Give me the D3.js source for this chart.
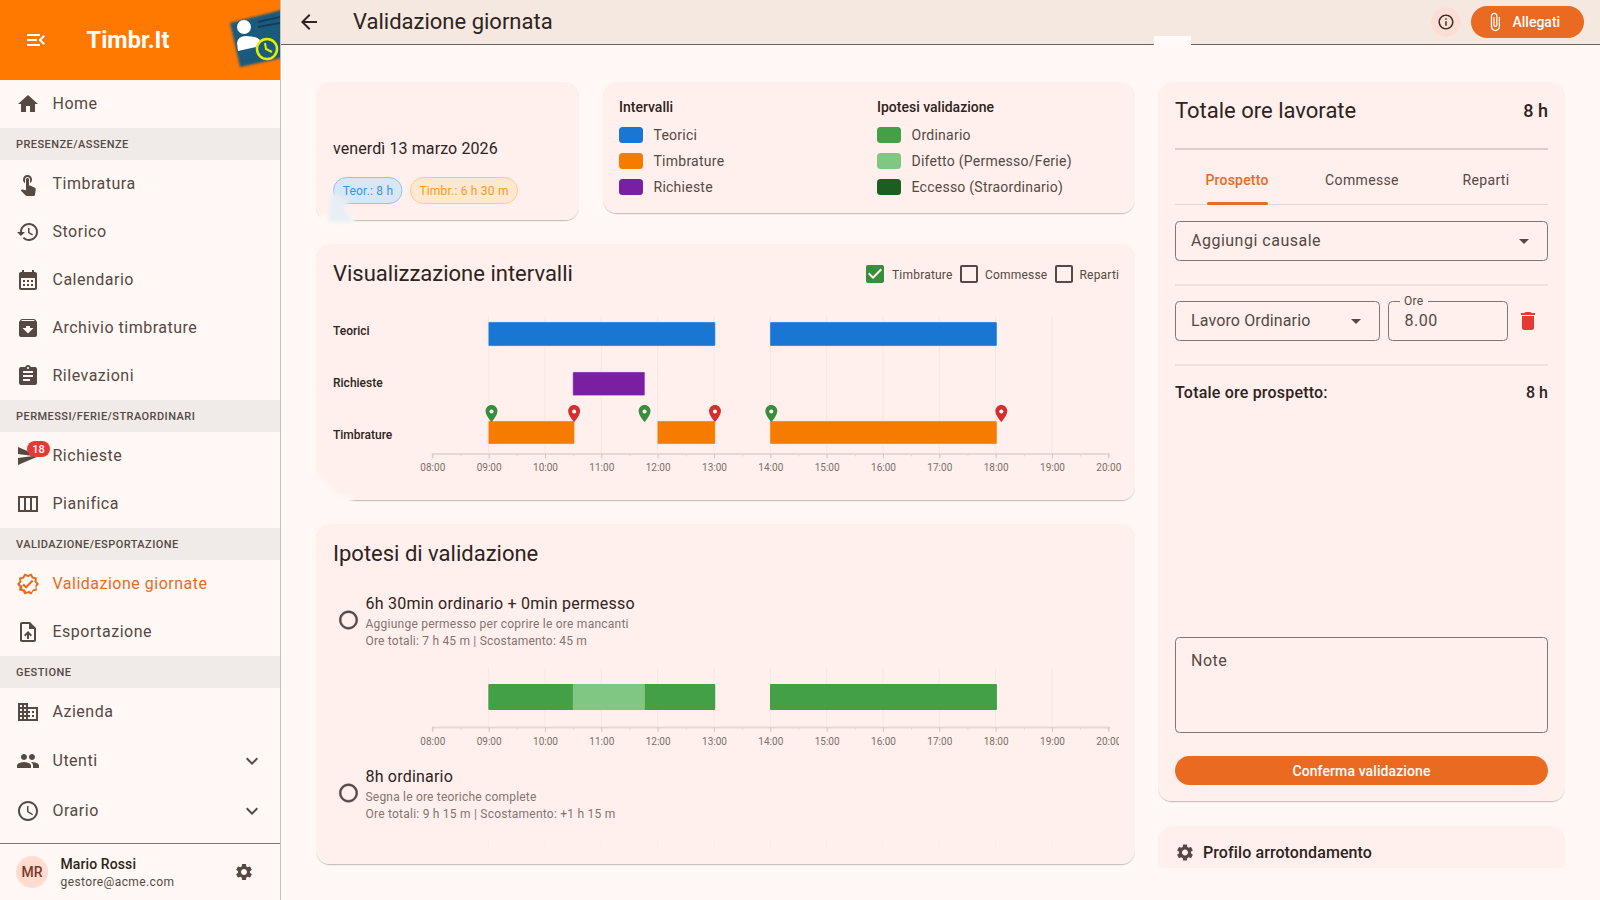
<!DOCTYPE html>
<html lang="it">
<head>
<meta charset="utf-8">
<title>Validazione giornata</title>
<script src="https://cdn.jsdelivr.net/npm/d3@7"></script>
<style>
    html, body { margin: 0; padding: 0; background: #fff8f5; overflow: hidden; }
    svg { display: block; font-family: Roboto, sans-serif; }
</style>
</head>
<body>
<div id="app"></div>
<script>
// -----------------------------
// Data
// -----------------------------
const menuEntries = [
    ["item", "Home", "home"],
    ["group", "PRESENZE/ASSENZE"],
    ["item", "Timbratura", "touch"],
    ["item", "Storico", "history"],
    ["item", "Calendario", "calendar"],
    ["item", "Archivio timbrature", "archive"],
    ["item", "Rilevazioni", "assignment"],
    ["group", "PERMESSI/FERIE/STRAORDINARI"],
    ["item", "Richieste", "send"],
    ["item", "Pianifica", "week"],
    ["group", "VALIDAZIONE/ESPORTAZIONE"],
    ["item", "Validazione giornate", "verified"],
    ["item", "Esportazione", "upload"],
    ["group", "GESTIONE"],
    ["item", "Azienda", "domain"],
    ["item", "Utenti", "people"],
    ["item", "Orario", "clock"]
];
const expandable = ["Utenti", "Orario"];
const activeItem = "Validazione giornate";

const hourTicks = ["08:00", "09:00", "10:00", "11:00", "12:00", "13:00", "14:00", "15:00", "16:00", "17:00", "18:00", "19:00", "20:00"];
const teorici = [["09:00", "13:00"], ["14:00", "18:00"]];
const richieste = [["10:30", "11:45"]];
const timbrature = [["09:00", "10:30"], ["12:00", "13:00"], ["14:00", "18:00"]];
const entrate = ["09:02", "11:45", "14:00"];
const uscite = ["10:30", "13:00", "18:05"];
const ipotesiOrdinario = [["09:00", "10:30"], ["11:45", "13:00"], ["14:00", "18:00"]];
const ipotesiDifetto = [["10:30", "11:45"]];

const legendIntervalli = [["Teorici", "#1976d2"], ["Timbrature", "#f57c00"], ["Richieste", "#7b1fa2"]];
const legendIpotesi = [["Ordinario", "#43a047"], ["Difetto (Permesso/Ferie)", "#81c784"], ["Eccesso (Straordinario)", "#1b5e20"]];
const toggles = [["Timbrature", true], ["Commesse", false], ["Reparti", false]];
const tabs = ["Prospetto", "Commesse", "Reparti"];

const icons = {
    home: "M10 20v-6h4v6h5v-8h3L12 3 2 12h3v8z",
    touch: "M9 11.24V7.5C9 6.12 10.12 5 11.5 5S14 6.12 14 7.5v3.74c1.21-.81 2-2.18 2-3.74C16 5.01 13.99 3 11.5 3S7 5.01 7 7.5c0 1.56.79 2.93 2 3.74zm9.84 4.63l-4.54-2.26c-.17-.07-.35-.11-.54-.11H13v-6c0-.83-.67-1.5-1.5-1.5S10 6.67 10 7.5v10.74l-3.43-.72c-.08-.01-.15-.03-.24-.03-.31 0-.59.13-.79.33l-.79.8 4.94 4.94c.27.27.65.44 1.06.44h6.79c.75 0 1.33-.55 1.44-1.28l.75-5.27c.01-.07.02-.14.02-.2 0-.62-.38-1.16-.91-1.38z",
    history: "M13 3c-4.97 0-9 4.03-9 9H1l3.89 3.89.07.14L9 12H6c0-3.87 3.13-7 7-7s7 3.13 7 7-3.13 7-7 7c-1.93 0-3.68-.79-4.94-2.06l-1.42 1.42C8.27 19.99 10.51 21 13 21c4.97 0 9-4.03 9-9s-4.03-9-9-9zm-1 5v5l4.28 2.54.72-1.21-3.5-2.08V8H12z",
    calendar: "M19 4h-1V2h-2v2H8V2H6v2H5c-1.11 0-1.99.9-1.99 2L3 20c0 1.1.89 2 2 2h14c1.1 0 2-.9 2-2V6c0-1.1-.9-2-2-2zm0 16H5V10h14v10zM9 14H7v-2h2v2zm4 0h-2v-2h2v2zm4 0h-2v-2h2v2zm-8 4H7v-2h2v2zm4 0h-2v-2h2v2zm4 0h-2v-2h2v2z",
    archive: "M20.54 5.23l-1.39-1.68C18.88 3.21 18.47 3 18 3H6c-.47 0-.88.21-1.16.55L3.46 5.23C3.17 5.57 3 6.02 3 6.5V19c0 1.1.9 2 2 2h14c1.1 0 2-.9 2-2V6.5c0-.48-.17-.93-.46-1.27zM12 17.5L6.5 12H10v-2h4v2h3.5L12 17.5zM5.12 5l.81-1h12l.94 1H5.12z",
    assignment: "M19 3h-4.18C14.4 1.84 13.3 1 12 1c-1.3 0-2.4.84-2.82 2H5c-1.1 0-2 .9-2 2v14c0 1.1.9 2 2 2h14c1.1 0 2-.9 2-2V5c0-1.1-.9-2-2-2zm-7 0c.55 0 1 .45 1 1s-.45 1-1 1-1-.45-1-1 .45-1 1-1zm2 14H7v-2h7v2zm3-4H7v-2h10v2zm0-4H7V7h10v2z",
    send: "M2.01 21L23 12 2.01 3 2 10l15 2-15 2z",
    week: "M2 4v16h20V4H2zm6 14H4V6h4v12zm6 0h-4V6h4v12zm6 0h-4V6h4v12z",
    verified: "M23 12l-2.44-2.79.34-3.69-3.61-.82-1.89-3.2L12 2.96 8.6 1.5 6.71 4.69 3.1 5.5l.34 3.7L1 12l2.44 2.79-.34 3.7 3.61.82L8.6 22.5l3.4-1.47 3.4 1.46 1.89-3.19 3.61-.82-.34-3.69L23 12zm-3.05 1.48l-.56.65.08.85.18 1.95-1.9.43-.84.19-.44.74-.99 1.68-1.78-.77-.8-.34-.79.34-1.78.77-.99-1.67-.44-.74-.84-.19-1.9-.43.18-1.96.08-.85-.56-.65L3.67 12l1.29-1.49.56-.65-.09-.86-.18-1.94 1.9-.43.84-.19.44-.74.99-1.68 1.78.77.8.34.79-.34 1.78-.77.99 1.68.44.74.84.19 1.9.43-.18 1.95-.08.85.56.65L20.33 12l-1.28 1.48zM10.09 13.75l-2.32-2.33-1.48 1.49 3.8 3.81 7.34-7.36-1.48-1.49z",
    upload: "M14 2H6c-1.1 0-1.99.9-1.99 2L4 20c0 1.1.89 2 1.99 2H18c1.1 0 2-.9 2-2V8l-6-6zm4 18H6V4h7v5h5v11zM8 15.01l1.41 1.41L11 14.84V19h2v-4.16l1.59 1.59L16 15.01 12.01 11z",
    domain: "M12 7V3H2v18h20V7H12zM6 19H4v-2h2v2zm0-4H4v-2h2v2zm0-4H4V9h2v2zm0-4H4V5h2v2zm4 12H8v-2h2v2zm0-4H8v-2h2v2zm0-4H8V9h2v2zm0-4H8V5h2v2zm10 12h-8v-2h2v-2h-2v-2h2v-2h-2V9h8v10zm-2-8h-2v2h2v-2zm0 4h-2v2h2v-2z",
    people: "M16 11c1.66 0 2.99-1.34 2.99-3S17.66 5 16 5c-1.66 0-3 1.34-3 3s1.34 3 3 3zm-8 0c1.66 0 2.99-1.34 2.99-3S9.66 5 8 5C6.34 5 5 6.34 5 8s1.34 3 3 3zm0 2c-2.33 0-7 1.17-7 3.5V19h14v-2.5c0-2.33-4.67-3.5-7-3.5zm8 0c-.29 0-.62.02-.97.05 1.16.84 1.97 1.97 1.97 3.45V19h6v-2.5c0-2.33-4.67-3.5-7-3.5z",
    clock: "M11.99 2C6.47 2 2 6.48 2 12s4.47 10 9.99 10C17.52 22 22 17.52 22 12S17.52 2 11.99 2zM12 20c-4.42 0-8-3.58-8-8s3.58-8 8-8 8 3.58 8 8-3.58 8-8 8zm.5-13H11v6l5.25 3.15.75-1.23-4.5-2.67z",
    expand: "M16.59 8.59L12 13.17 7.41 8.59 6 10l6 6 6-6z",
    settings: "M19.14 12.94c.04-.3.06-.61.06-.94 0-.32-.02-.64-.07-.94l2.03-1.58c.18-.14.23-.41.12-.61l-1.92-3.32c-.12-.22-.37-.29-.59-.22l-2.39.96c-.5-.38-1.03-.7-1.62-.94l-.36-2.54c-.04-.24-.24-.41-.48-.41h-3.84c-.24 0-.43.17-.47.41l-.36 2.54c-.59.24-1.13.57-1.62.94l-2.39-.96c-.22-.08-.47 0-.59.22L2.74 8.87c-.12.21-.08.47.12.61l2.03 1.58c-.05.3-.09.63-.09.94s.02.64.07.94l-2.03 1.58c-.18.14-.23.41-.12.61l1.92 3.32c.12.22.37.29.59.22l2.39-.96c.5.38 1.03.7 1.62.94l.36 2.54c.05.24.24.41.48.41h3.84c.24 0 .44-.17.47-.41l.36-2.54c.59-.24 1.13-.56 1.62-.94l2.39.96c.22.08.47 0 .59-.22l1.92-3.32c.12-.22.07-.47-.12-.61l-2.01-1.58zM12 15.6c-1.98 0-3.6-1.62-3.6-3.6s1.62-3.6 3.6-3.6 3.6 1.62 3.6 3.6-1.62 3.6-3.6 3.6z",
    back: "M20 11H7.83l5.59-5.59L12 4l-8 8 8 8 1.41-1.41L7.83 13H20v-2z",
    info: "M11 7h2v2h-2zm0 4h2v6h-2zm1-9C6.48 2 2 6.48 2 12s4.48 10 10 10 10-4.48 10-10S17.52 2 12 2zm0 18c-4.41 0-8-3.59-8-8s3.59-8 8-8 8 3.59 8 8-3.59 8-8 8z",
    attach: "M16.5 6v11.5c0 2.21-1.79 4-4 4s-4-1.79-4-4V5c0-1.38 1.12-2.5 2.5-2.5s2.5 1.12 2.5 2.5v10.5c0 .55-.45 1-1 1s-1-.45-1-1V6H10v9.5c0 1.38 1.12 2.5 2.5 2.5s2.5-1.12 2.5-2.5V5c0-2.21-1.79-4-4-4S7 2.79 7 5v12.5c0 3.04 2.46 5.5 5.5 5.5s5.5-2.46 5.5-5.5V6h-1.5z",
    trash: "M6 19c0 1.1.9 2 2 2h8c1.1 0 2-.9 2-2V7H6v12zM19 4h-3.5l-1-1h-5l-1 1H5v2h14V4z",
    menuOpen: "M3 18h13v-2H3v2zm0-5h10v-2H3v2zm0-7v2h13V6H3zm18 9.59L17.42 12 21 8.41 19.59 7l-5 5 5 5L21 15.59z",
    dropDown: "M7 10l5 5 5-5z",
    checked: "M19 3H5c-1.11 0-2 .9-2 2v14c0 1.1.89 2 2 2h14c1.11 0 2-.9 2-2V5c0-1.1-.89-2-2-2zm-9 14l-5-5 1.41-1.41L10 14.17l7.59-7.59L19 8l-9 9z",
    unchecked: "M19 5v14H5V5h14m0-2H5c-1.1 0-2 .9-2 2v14c0 1.1.9 2 2 2h14c1.1 0 2-.9 2-2V5c0-1.1-.9-2-2-2z",
    radio: "M12 2C6.48 2 2 6.48 2 12s4.48 10 10 10 10-4.48 10-10S17.52 2 12 2zm0 18c-4.42 0-8-3.58-8-8s3.58-8 8-8 8 3.58 8 8-3.58 8-8 8z",
    pin: "M12 2C8.13 2 5 5.13 5 9c0 5.25 7 13 7 13s7-7.75 7-13c0-3.87-3.13-7-7-7z"
};

const TEXT = "#2e2320";
const MUTED = "#564843";
const ACCENT = "#ea6a22";
const CARD = "#fff0ed";
const PAGE = "#fff8f5";
const RULE = "#d8c2bc";

// -----------------------------
// Helpers
// -----------------------------
const svg = d3.select("#app").append("svg").attr("width", 1600).attr("height", 900);
const defs = svg.append("defs");
const shadow = defs.append("filter").attr("id", "cardShadow").attr("x", "-5%").attr("y", "-5%").attr("width", "110%").attr("height", "115%");
shadow.append("feDropShadow").attr("dx", 0).attr("dy", 1.2).attr("stdDeviation", 0.6).attr("flood-color", "#000").attr("flood-opacity", 0.22);
defs.append("filter").attr("id", "soft").append("feGaussianBlur").attr("stdDeviation", 1);
defs.append("filter").attr("id", "blotch").append("feGaussianBlur").attr("stdDeviation", 2);
defs.append("clipPath").attr("id", "logoClip").append("rect").attr("width", 280).attr("height", 80);
defs.append("clipPath").attr("id", "pageClip").append("rect").attr("y", 0).attr("width", 1600).attr("height", 868);
defs.append("clipPath").attr("id", "chartClip").append("rect").attr("x", 316).attr("y", 640).attr("width", 803).attr("height", 120);

function label(parent, x, y, str, o = {}) {
    return parent.append("text")
        .attr("x", x).attr("y", y)
        .attr("dy", "0.35em")
        .attr("text-anchor", o.anchor || "start")
        .attr("font-size", o.size || 14)
        .attr("font-weight", o.weight || 400)
        .attr("fill", o.fill || TEXT)
        .style("letter-spacing", (o.spacing === undefined ? 0.25 : o.spacing) + "px")
        .text(str);
}

function icon(parent, name, cx, cy, size, fill) {
    return parent.append("path")
        .attr("d", icons[name])
        .attr("fill", fill)
        .attr("transform", `translate(${cx - size / 2},${cy - size / 2}) scale(${size / 24})`);
}

function card(parent, x, y, w, h) {
    return parent.append("rect")
        .attr("x", x).attr("y", y).attr("width", w).attr("height", h)
        .attr("rx", 14).attr("fill", CARD)
        .attr("filter", "url(#cardShadow)");
}

function hrule(parent, x1, x2, y, color, width) {
    parent.append("line")
        .attr("x1", x1).attr("x2", x2).attr("y1", y).attr("y2", y)
        .attr("stroke", color).attr("stroke-width", width || 1);
}

function outlined(parent, x, y, w, h) {
    return parent.append("rect")
        .attr("x", x + 0.5).attr("y", y + 0.5).attr("width", w).attr("height", h)
        .attr("rx", 4).attr("fill", "none").attr("stroke", "#857370").attr("stroke-width", 1);
}

// -----------------------------
// Scales
// -----------------------------
const parseHour = d3.timeParse("%H:%M");
const formatHour = d3.timeFormat("%H:%M");
const x = d3.scaleTime()
    .domain([parseHour(hourTicks[0]), parseHour(hourTicks[hourTicks.length - 1])])
    .range([432.3, 1108.3]);
const halfHours = d3.timeMinute.every(30).range(x.domain()[0], d3.timeMinute.offset(x.domain()[1], 1));

function drawBars(parent, intervals, y, h, color, stroke) {
    parent.selectAll(null)
        .data(intervals)
        .join("rect")
        .attr("x", d => x(parseHour(d[0])) - 0.3)
        .attr("width", d => x(parseHour(d[1])) - x(parseHour(d[0])) + 1.6)
        .attr("y", y).attr("height", h)
        .attr("rx", 1)
        .attr("fill", color)
        .attr("stroke", stroke || "none")
        .attr("stroke-opacity", 0.45);
}

function drawGrid(parent, top, bottom, color) {
    parent.selectAll(null)
        .data(hourTicks.slice(1, -1))
        .join("line")
        .attr("x1", d => x(parseHour(d))).attr("x2", d => x(parseHour(d)))
        .attr("y1", top).attr("y2", bottom)
        .attr("stroke", color || "#f6e7e2").attr("stroke-width", 1);
}

function drawAxis(parent, y) {
    const minor = parent.append("g")
        .attr("transform", `translate(0,${y})`)
        .call(d3.axisBottom(x).tickValues(halfHours).tickSize(3).tickFormat(""));
    minor.selectAll("path").attr("stroke", "#e6d9d3").attr("stroke-width", 2);
    minor.selectAll("line").attr("stroke", "#e6d9d3");

    const major = parent.append("g")
        .attr("transform", `translate(0,${y})`)
        .call(d3.axisBottom(x).tickValues(hourTicks.map(parseHour)).tickSize(5).tickFormat(formatHour));
    major.select(".domain").remove();
    major.selectAll("line").attr("stroke", "#d8c8c2");
    major.selectAll("text")
        .attr("font-family", "Roboto, sans-serif")
        .attr("font-size", 10)
        .attr("fill", "#7d6f6a")
        .attr("y", 10.5);
}

// -----------------------------
// Background + sidebar
// -----------------------------
svg.append("rect").attr("width", 1600).attr("height", 900).attr("fill", PAGE);

const side = svg.append("g");
side.append("rect").attr("width", 280).attr("height", 900).attr("fill", PAGE);
side.append("line").attr("x1", 280.5).attr("x2", 280.5).attr("y1", 0).attr("y2", 900).attr("stroke", "#cdbdb8");
side.append("rect").attr("width", 280).attr("height", 80).attr("fill", "#ff7800");
icon(side, "menuOpen", 36, 40, 24, "#fff");
label(side, 128, 40, "Timbr.It", { anchor: "middle", size: 23.5, weight: 700, fill: "#fff", spacing: 0 });

const logo = side.append("g").attr("clip-path", "url(#logoClip)");
logo.append("path")
    .attr("d", "M230 23 L285 9 L296 55 L240 67 Z")
    .attr("fill", "#1d5a7d").attr("filter", "url(#soft)");
logo.append("line").attr("x1", 258).attr("y1", 22).attr("x2", 280).attr("y2", 17).attr("stroke", "#0f3f5c").attr("stroke-width", 2);
logo.append("line").attr("x1", 258).attr("y1", 27).attr("x2", 280).attr("y2", 23).attr("stroke", "#0f3f5c").attr("stroke-width", 2);
logo.append("circle").attr("cx", 244).attr("cy", 27).attr("r", 7).attr("fill", "#fff");
logo.append("path").attr("d", "M238 51 L237 43 Q238 36 246 36 Q256 36 260 40 L256 47 Z").attr("fill", "#fff");
logo.append("circle").attr("cx", 267).attr("cy", 49).attr("r", 10).attr("fill", "#1d5a7d").attr("stroke", "#e3f000").attr("stroke-width", 2.5);
logo.append("path").attr("d", "M265 43 L266 49 L272 52").attr("fill", "none").attr("stroke", "#e3f000").attr("stroke-width", 2);

let cursor = 80;
menuEntries.forEach(([kind, name, iconName]) => {
    if (kind === "group") {
        side.append("rect").attr("y", cursor).attr("width", 280).attr("height", 32).attr("fill", "#f0ebe8");
        label(side, 16, cursor + 16, name, { size: 11, weight: 500, fill: MUTED, spacing: 0.45 });
        cursor += 32;
        return;
    }
    const rowHeight = expandable.includes(name) ? 50 : 48;
    const cy = cursor + rowHeight / 2;
    const color = name === activeItem ? ACCENT : MUTED;
    icon(side, iconName, 28, cy, 24, color);
    label(side, 52.5, cy - 1, name, { size: 16, fill: color, spacing: 0.5 });
    if (expandable.includes(name)) icon(side, "expand", 252, cy, 24, MUTED);
    if (name === "Richieste") {
        side.append("rect").attr("x", 27).attr("y", cy - 15).attr("width", 23).attr("height", 16).attr("rx", 8).attr("fill", "#e53935");
        label(side, 38.5, cy - 7, "18", { anchor: "middle", size: 11, weight: 500, fill: "#fff", spacing: 0 });
    }
    cursor += rowHeight;
});

hrule(side, 0, 280, 843.5, "#857370");
side.append("circle").attr("cx", 32).attr("cy", 872).attr("r", 16).attr("fill", "#ffdbd0");
label(side, 32, 872, "MR", { anchor: "middle", size: 14, weight: 500, fill: "#7a3a26", spacing: 0 });
label(side, 60.5, 864, "Mario Rossi", { size: 14, weight: 500, spacing: 0.1 });
label(side, 60.5, 882, "gestore@acme.com", { size: 12, fill: MUTED, spacing: 0.4 });
icon(side, "settings", 244, 872, 20, MUTED);

// -----------------------------
// Top bar
// -----------------------------
const topBar = svg.append("g");
topBar.append("rect").attr("x", 281).attr("width", 1319).attr("height", 44).attr("fill", "#f5e8e1");
hrule(topBar, 281, 1600, 44.5, "#6f625e");
topBar.append("rect").attr("x", 1154).attr("y", 36).attr("width", 37).attr("height", 11).attr("fill", "#fffaf7");
icon(topBar, "back", 309, 22, 24, TEXT);
label(topBar, 353, 21.5, "Validazione giornata", { size: 22, spacing: 0 });
topBar.append("circle").attr("cx", 1446).attr("cy", 22).attr("r", 15).attr("fill", "#fbdfd4");
icon(topBar, "info", 1446, 22, 18, "#3d302c");
topBar.append("rect").attr("x", 1471).attr("y", 6).attr("width", 113).attr("height", 32).attr("rx", 16).attr("fill", ACCENT);
icon(topBar, "attach", 1495, 22, 20, "#fff");
label(topBar, 1512.5, 22, "Allegati", { weight: 500, fill: "#fff", spacing: 0 });

// -----------------------------
// Date + legend cards
// -----------------------------
const main = svg.append("g").attr("clip-path", "url(#pageClip)");
card(main, 316, 82, 263, 138);
label(main, 333, 148.5, "venerdì 13 marzo 2026", { size: 16, spacing: 0.1 });

main.append("rect").attr("x", 333.5).attr("y", 177.5).attr("width", 68.5).attr("height", 26).attr("rx", 13).attr("fill", "#d9e6f3").attr("stroke", "#90c5ef");
label(main, 368, 190.5, "Teor.: 8 h", { anchor: "middle", size: 12, fill: "#3a94df", spacing: 0.2 });
main.append("rect").attr("x", 410.5).attr("y", 177.5).attr("width", 107).attr("height", 26).attr("rx", 13).attr("fill", "#ffe8d2").attr("stroke", "#ffc98a");
label(main, 464, 190.5, "Timbr.: 6 h 30 m", { anchor: "middle", size: 12, fill: "#f99a1c", spacing: 0.2 });
// smudge over the card corner, as in the source screenshot
main.append("path").attr("d", "M312 216 L332 214 L354 216 L354 226 L312 226 Z").attr("fill", PAGE).attr("filter", "url(#blotch)");
main.append("path").attr("d", "M332 192 L350 202 L344 208 L354 222 L328 222 Z").attr("fill", "#e8eef4").attr("filter", "url(#blotch)");

card(main, 603, 82, 532, 131);
function drawLegend(title, entries, x0) {
    label(main, x0, 107, title, { weight: 500, spacing: 0 });
    main.selectAll(null)
        .data(entries)
        .join("rect")
        .attr("x", x0).attr("y", (d, i) => 127 + i * 26)
        .attr("width", 24).attr("height", 16).attr("rx", 3.5)
        .attr("fill", d => d[1]);
    entries.forEach((d, i) => label(main, x0 + 34.5, 135 + i * 26, d[0], { fill: MUTED, spacing: 0.25 }));
}
drawLegend("Intervalli", legendIntervalli, 619);
drawLegend("Ipotesi validazione", legendIpotesi, 877);

// -----------------------------
// Visualizzazione intervalli
// -----------------------------
card(main, 316, 244, 819, 256);
main.append("path").attr("d", "M310 470 L322 478 L338 494 L352 497 L352 508 L310 508 Z").attr("fill", PAGE).attr("filter", "url(#blotch)");
label(main, 333, 273, "Visualizzazione intervalli", { size: 22, spacing: 0 });

const toggleX = [866, 960, 1055];
const toggleLabelX = [892, 985, 1079.5];
toggles.forEach(([name, on], i) => {
    icon(main, on ? "checked" : "unchecked", toggleX[i] + 9, 274, 24, on ? "#388e3c" : MUTED);
    label(main, toggleLabelX[i], 274.5, name, { size: 12, fill: MUTED, spacing: 0.2 });
});

const chart = main.append("g");
drawGrid(chart, 316, 453);
label(chart, 333, 330.5, "Teorici", { size: 12, weight: 500, spacing: 0 });
label(chart, 333, 382.5, "Richieste", { size: 12, weight: 500, spacing: 0 });
label(chart, 333, 434.5, "Timbrature", { size: 12, weight: 500, spacing: 0 });
drawBars(chart, teorici, 322, 24, "#1976d2", "#bbdefb");
drawBars(chart, richieste, 372, 23.5, "#7b1fa2", "#e1bee7");
drawBars(chart, timbrature, 421, 23, "#f57c00", "#ffe0b2");
drawAxis(chart, 453.5);

function drawPins(times, color) {
    times.forEach(t => {
        const px = x(parseHour(t)) + 1;
        icon(chart, "pin", px, 413.5, 20.5, color);
        chart.append("circle").attr("cx", px).attr("cy", 411.5).attr("r", 2).attr("fill", "#fff");
    });
}
drawPins(entrate, "#388e3c");
drawPins(uscite, "#d32f2f");

// -----------------------------
// Ipotesi di validazione
// -----------------------------
card(main, 316, 524, 819, 340);
label(main, 333, 553, "Ipotesi di validazione", { size: 22, spacing: 0 });

icon(main, "radio", 348.5, 620, 22, MUTED).attr("stroke", MUTED).attr("stroke-width", 0.6);
label(main, 365.5, 603, "6h 30min ordinario + 0min permesso", { size: 16, spacing: 0.23 });
label(main, 365.5, 624, "Aggiunge permesso per coprire le ore mancanti", { size: 12, fill: "#857370", spacing: 0.24 });
label(main, 365.5, 640.5, "Ore totali: 7 h 45 m | Scostamento: 45 m", { size: 12, fill: "#857370", spacing: 0.2 });

const chart2 = main.append("g").attr("clip-path", "url(#chartClip)");
drawGrid(chart2, 668, 727);
drawBars(chart2, ipotesiOrdinario, 684, 26, "#43a047");
drawBars(chart2, ipotesiDifetto, 684, 26, "#81c784");
drawAxis(chart2, 727);
drawGrid(main.append("g"), 840, 848, "#faece8");

icon(main, "radio", 348.5, 793, 22, MUTED).attr("stroke", MUTED).attr("stroke-width", 0.6);
label(main, 365.5, 776, "8h ordinario", { size: 16, spacing: 0.2 });
label(main, 365.5, 796.5, "Segna le ore teoriche complete", { size: 12, fill: "#857370", spacing: 0.2 });
label(main, 365.5, 813.5, "Ore totali: 9 h 15 m | Scostamento: +1 h 15 m", { size: 12, fill: "#857370", spacing: 0.23 });

// -----------------------------
// Right panel
// -----------------------------
card(main, 1158, 82, 407, 719);
label(main, 1175, 110, "Totale ore lavorate", { size: 22, spacing: 0 });
label(main, 1548, 110.5, "8 h", { anchor: "end", size: 18, weight: 500, spacing: 0 });
hrule(main, 1175, 1548, 149, RULE, 1.5);

const tabCenters = [1237, 1362, 1486];
tabs.forEach((t, i) => label(main, tabCenters[i], 180, t, { anchor: "middle", weight: i === 0 ? 500 : 400, fill: i === 0 ? ACCENT : MUTED, spacing: i === 0 ? 0.2 : 0.35 }));
hrule(main, 1175, 1548, 204.5, "#e4d8d3");
main.append("rect").attr("x", 1207).attr("y", 202).attr("width", 61).attr("height", 3).attr("rx", 1.5).attr("fill", ACCENT);

outlined(main, 1175, 221, 372, 39);
label(main, 1191, 240.5, "Aggiungi causale", { size: 16, fill: MUTED, spacing: 0.5 });
icon(main, "dropDown", 1524, 241, 24, MUTED);
hrule(main, 1175, 1548, 285, "#eaddd8", 1.5);

outlined(main, 1175, 301, 204, 39);
label(main, 1191, 320.5, "Lavoro Ordinario", { size: 16, fill: MUTED, spacing: 0.12 });
icon(main, "dropDown", 1356, 321, 24, MUTED);
outlined(main, 1388, 301, 119, 39);
main.append("rect").attr("x", 1400).attr("y", 298).attr("width", 28).attr("height", 6).attr("fill", CARD);
label(main, 1404, 300.5, "Ore", { size: 12, fill: MUTED, spacing: 0.3 });
label(main, 1404.5, 320.5, "8.00", { size: 16, fill: MUTED, spacing: 0.5 });
icon(main, "trash", 1528, 321, 24, "#e53935");
hrule(main, 1175, 1548, 365, "#eaddd8", 1.5);

label(main, 1175, 392.5, "Totale ore prospetto:", { size: 16, weight: 500, spacing: 0.2 });
label(main, 1548, 392.5, "8 h", { anchor: "end", size: 16, weight: 500, spacing: 0 });

outlined(main, 1175, 637, 372, 95);
label(main, 1191, 660, "Note", { size: 16, fill: MUTED, spacing: 0.5 });

main.append("rect").attr("x", 1175).attr("y", 756).attr("width", 373).attr("height", 29).attr("rx", 14.5).attr("fill", ACCENT);
label(main, 1361.5, 771, "Conferma validazione", { anchor: "middle", weight: 500, fill: "#fff", spacing: 0.1 });

card(main, 1158, 826, 407, 80);
icon(main, "settings", 1185, 852.5, 20, MUTED);
label(main, 1203, 852.5, "Profilo arrotondamento", { size: 16, weight: 500, spacing: 0.1 });
</script>
</body>
</html>
